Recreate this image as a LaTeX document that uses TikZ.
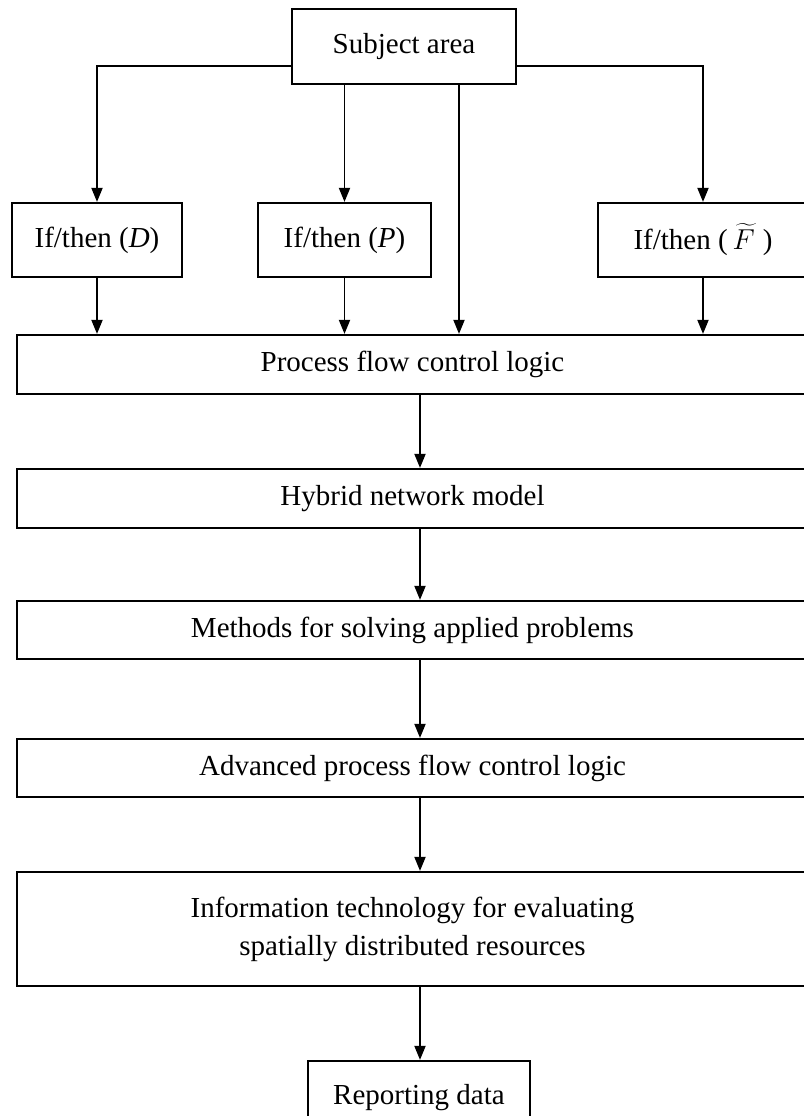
\documentclass[tikz,border=0pt]{standalone}
\usepackage{fontspec}
\setmainfont{Liberation Serif}
\usetikzlibrary{arrows.meta}
\begin{document}
\begin{tikzpicture}[x=0.5pt,y=-0.5pt,
  box/.style={draw,line width=1.1pt,inner sep=0pt,align=center,font=\fontsize{14.5}{19}\selectfont},
  link/.style={line width=0.9pt,-{Triangle[length=7pt,width=5.5pt]}}]
\useasboundingbox (0,0) rectangle (804,1116);
\node[box,minimum width=112pt,minimum height=37.5pt] (subj) at (404,46.5) {Subject area};

\node[box,minimum width=85pt,minimum height=37pt] (ifD) at (97,240) {If/then (\textit{D})};
\node[box,minimum width=86.5pt,minimum height=37pt] (ifP) at (344.5,240) {If/then (\textit{P})};
\node[box,minimum width=105pt,minimum height=37pt] (ifF) at (703,240) {If/then (\,$\widetilde{F}$\;)};

\node[box,minimum width=395.5pt,minimum height=29.5pt] (proc) at (412.5,364.5) {Process flow control logic};
\node[box,minimum width=395.5pt,minimum height=29.5pt] (hyb) at (412.5,498.5) {Hybrid network model};
\node[box,minimum width=395.5pt,minimum height=29pt] (meth) at (412.5,630) {Methods for solving applied problems};
\node[box,minimum width=395.5pt,minimum height=29pt] (adv) at (412.5,768) {Advanced process flow control logic};
\node[box,minimum width=395.5pt,minimum height=57pt] (info) at (412.5,929) {Information technology for evaluating\\spatially distributed resources};
\node[box,minimum width=111pt,minimum height=37pt] (rep) at (419,1098) {Reporting data};

\coordinate (branch) at (0,66);
\coordinate (tap) at (459,0);
\coordinate (spine) at (420,0);
\draw[link] (subj.west |- branch) -| (ifD.north);
\draw[link] (subj.east |- branch) -| (ifF.north);
\draw[link] (subj.south -| ifP.north) -- (ifP.north);
\draw[link] (subj.south -| tap) -- (proc.north -| tap);
\foreach \a in {ifD,ifP,ifF}
  \draw[link] (\a.south) -- (proc.north -| \a.south);
\foreach \a/\b in {proc/hyb,hyb/meth,meth/adv,adv/info,info/rep}
  \draw[link] (\a.south -| spine) -- (\b.north -| spine);
\end{tikzpicture}
\end{document}
